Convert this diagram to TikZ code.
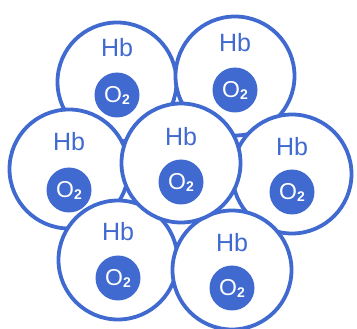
\documentclass[tikz,border=0pt]{standalone}
\usepackage{fontspec}
\setsansfont{Liberation Sans}
\usepackage{tikz}
\usetikzlibrary{positioning}
\usepackage{xcolor}
\definecolor{hbblue}{RGB}{64,106,208}

\begin{document}
\begin{tikzpicture}[
  x=1pt, y=-1pt,
  cell/.style={draw=hbblue, fill=white, circle, line width=3.8pt, minimum size=119pt, inner sep=0pt},
  hb/.style={text=hbblue, font=\sffamily\fontsize{25}{25}\selectfont, inner sep=0pt},
  oxy/.style={fill=hbblue, circle, minimum size=45pt, inner sep=0pt, text=white, font=\sffamily\fontsize{23}{23}\selectfont}]

\useasboundingbox (0,0) rectangle (357,329);

% outer cells first, the middle one last
\foreach \n/\x/\y/\hy/\oy in {tl/117/82/48/95, tr/235/76/43/90, ml/69/169/142/190,
    mr/292/174/147/192, bl/118/260/232/278, br/232/270/243/288, c/181/163/137/182}{
  \node[cell] (cell\n) at (\x,\y) {};
  \node[hb] (hb\n) at (\x,\hy) {Hb};
  \node[oxy] (oxy\n) at (\x,\oy) {O\raisebox{-2pt}{\fontsize{14}{14}\selectfont\bfseries 2}};
}

\end{tikzpicture}
\end{document}
